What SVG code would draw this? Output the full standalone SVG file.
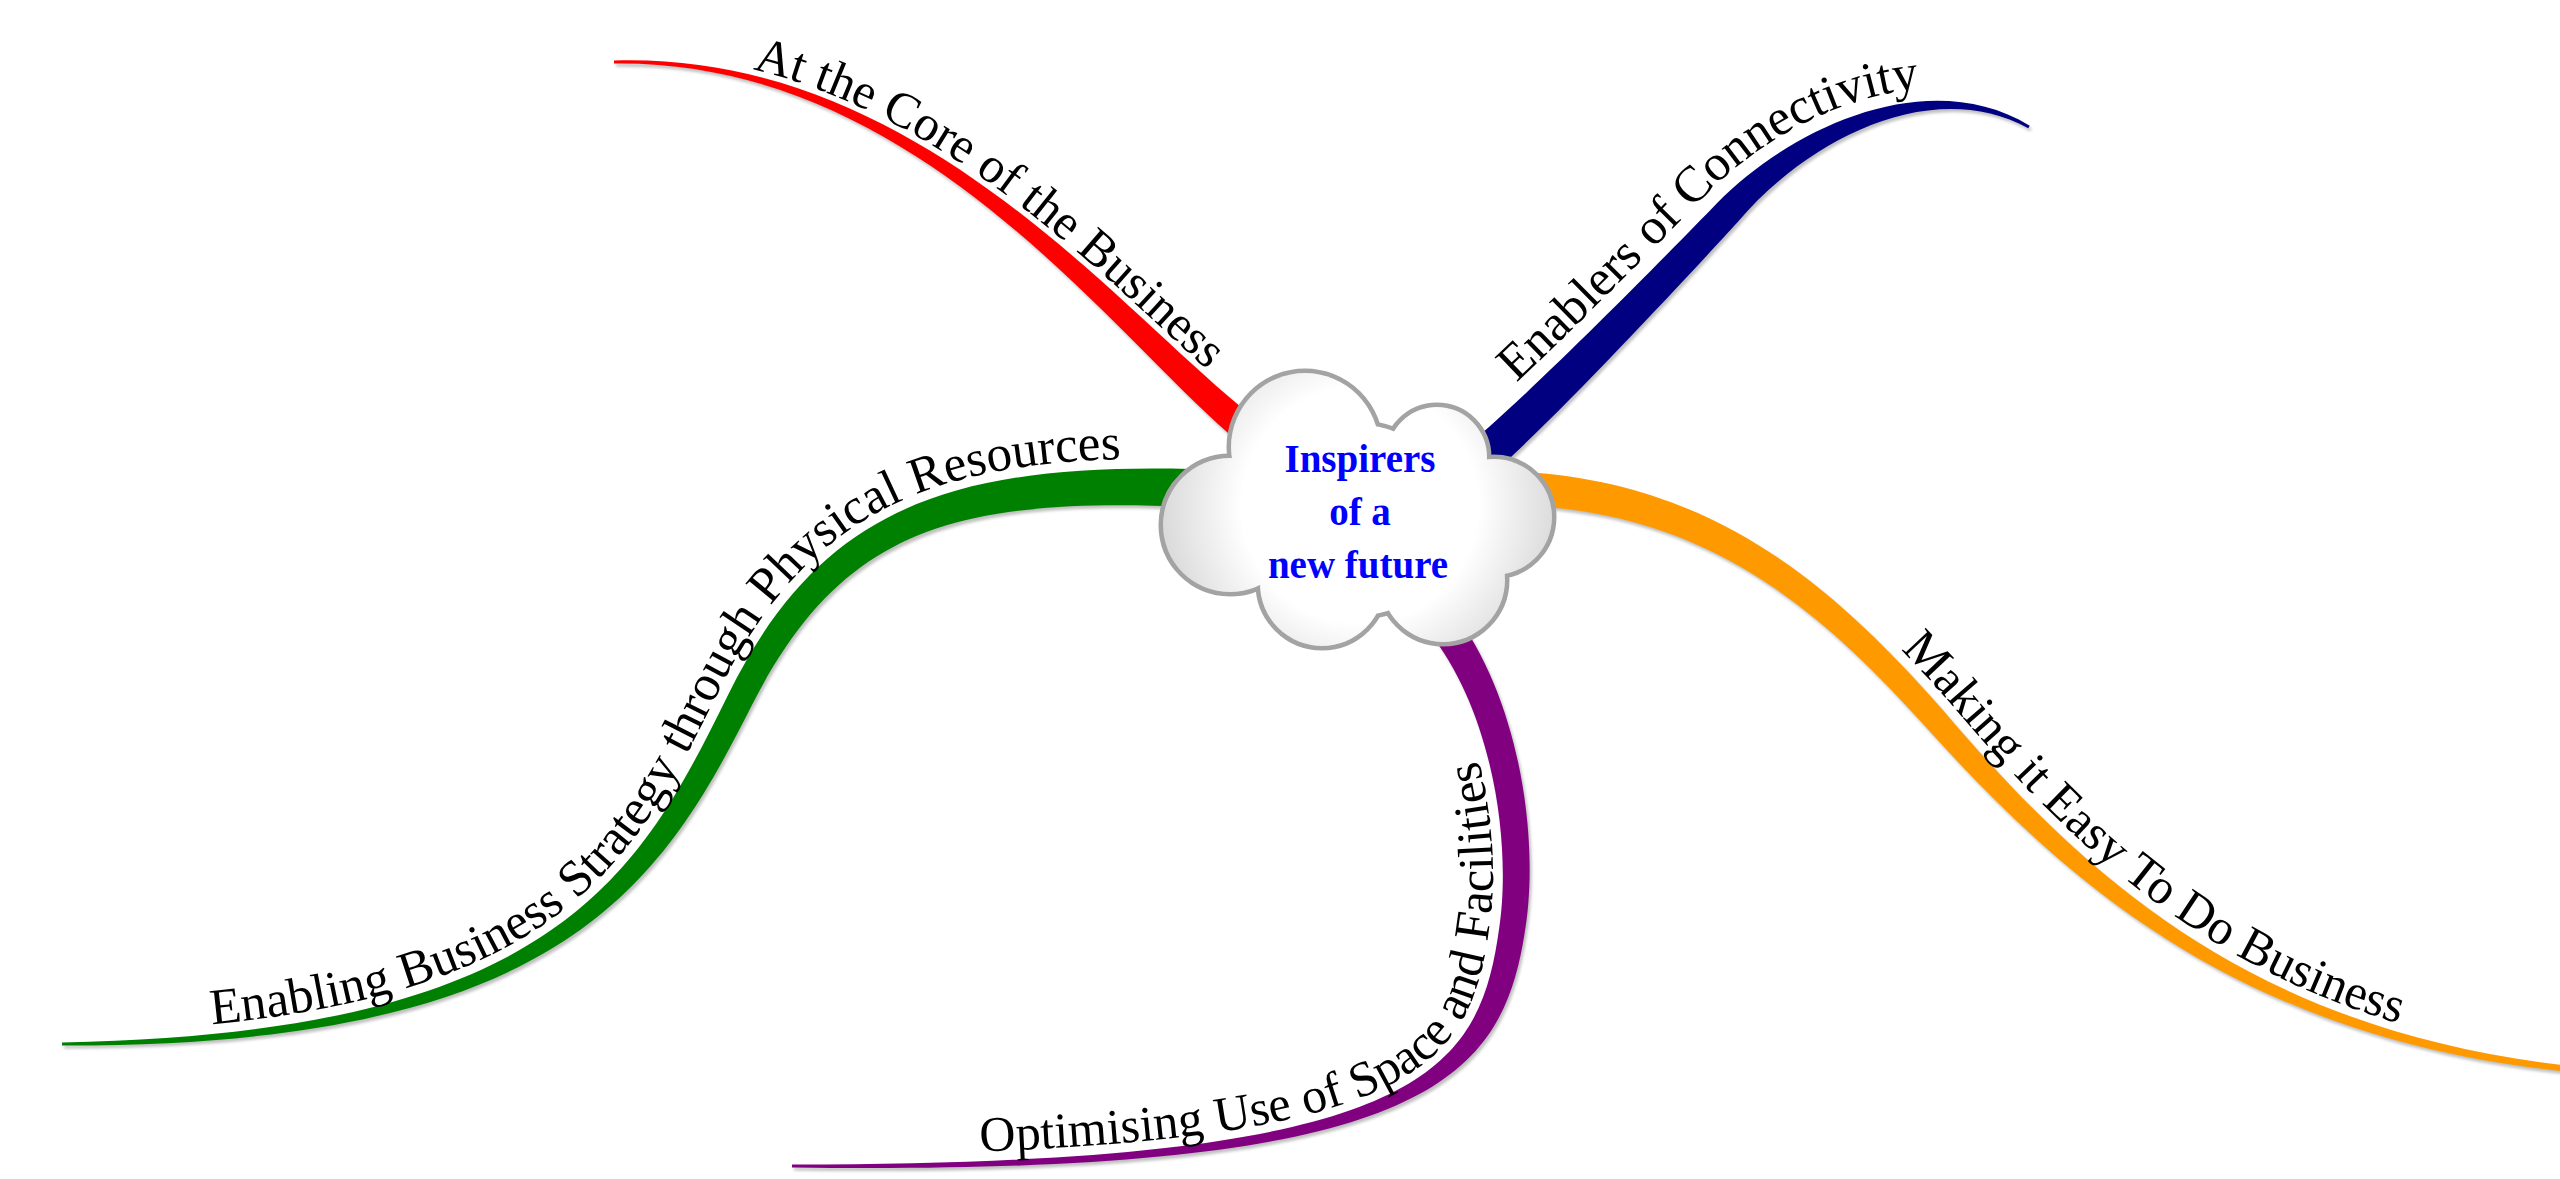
<svg xmlns="http://www.w3.org/2000/svg" width="2560" height="1179" viewBox="0 0 2560 1179">
<defs>
<style>
.lbl{font-family:"Liberation Serif","Times New Roman",serif;font-size:50px;fill:#000}
.ctr{font-family:"Liberation Serif","Times New Roman",serif;font-weight:bold;font-size:39px;fill:#0000ff;text-anchor:middle}
.sh{fill:#8a8a8a;opacity:.55;filter:url(#blur)}
.clo{fill:#a3a3a3;stroke:#a3a3a3;stroke-width:9}
.cl{fill:url(#cg)}
</style>
<filter id="blur" x="-5%" y="-5%" width="110%" height="110%"><feGaussianBlur stdDeviation="1.6"/></filter>
<radialGradient id="cg" gradientUnits="userSpaceOnUse" cx="1360" cy="505" r="215">
<stop offset="0" stop-color="#ffffff"/>
<stop offset="0.55" stop-color="#ffffff"/>
<stop offset="1" stop-color="#d2d2d2"/>
</radialGradient>
<path id="tRed" d="M613.8,54.5 C935.3,45.4 1142.9,333.9 1272.4,423.1"/>
<path id="tBlue" d="M1449.3,442.3 C1509.6,395.1 1658,244 1706.5,194 C1786.2,113.4 1929.5,51 2036.7,113.6"/>
<path id="tOrange" d="M1500.3,461 C1707.9,465.2 1836.1,573.5 1949.4,702.4 C2093.5,871.6 2255.4,1021 2561.4,1056.1"/>
<path id="tPurple" d="M792.1,1154.5 C1418,1154.1 1469.5,1072.1 1489.3,926.4 C1501,850.2 1486.5,718.7 1419.5,636"/>
<path id="tGreen" d="M61.9,1032.5 C555.4,1023.6 630.6,869.7 719.4,689.7 C811.9,502.7 947.6,453.1 1191,459"/>
<path id="rRed" d="M614,60.5 C932.4,50.6 1138.3,337.8 1268.9,427.9 L1251.1,452.1 C1121.7,352.2 927.6,59.4 614,63.5 Z"/>
<path id="rBlue" d="M1458.1,453.2 C1519.4,405.1 1668.1,253.7 1716.7,203.5 C1794.2,124.8 1929.9,65 2029.7,125.7 L2028.3,128.3 C1930.1,75 1805.8,141.2 1737.3,222.5 C1689.9,274.3 1544.6,430.9 1481.9,482.8 Z"/>
<path id="rOrange" d="M1500.2,471 C1704.9,474.8 1829.1,580.7 1942,709 C2086.4,878.6 2251.8,1030.3 2570,1066 L2570,1072 C2248.2,1039.7 2073.6,891.4 1924,725 C1810.9,599.3 1695.1,505.2 1499.8,505 Z"/>
<path id="rPurple" d="M792,1164.5 C1419.3,1164 1478.8,1075.7 1499.2,928 C1511,850.1 1495.9,715.2 1427.4,629.8 L1452.6,610.2 C1524.1,704.8 1539,849.9 1524.8,932 C1501.2,1084.3 1420.7,1176 792,1167.5 Z"/>
<path id="rGreen" d="M62,1042.5 C558.1,1033.3 639.4,874.4 728.4,694.2 C819.2,509.6 948.5,463.1 1190.6,469 L1189.4,507 C951.5,496.9 840.8,530.4 751.6,705.8 C660.6,885.6 561.9,1046.7 62,1045.5 Z"/>
</defs>
<rect width="2560" height="1179" fill="#ffffff"/>
<g id="connectors">
<g id="conn-red"><use href="#rRed" class="sh" transform="translate(2,3)"/><use href="#rRed" fill="#ff0000"/></g>
<g id="conn-blue"><use href="#rBlue" class="sh" transform="translate(2,3)"/><use href="#rBlue" fill="#000080"/></g>
<g id="conn-orange"><use href="#rOrange" class="sh" transform="translate(2,3)"/><use href="#rOrange" fill="#ff9900"/></g>
<g id="conn-purple"><use href="#rPurple" class="sh" transform="translate(2,3)"/><use href="#rPurple" fill="#800080"/></g>
<g id="conn-green"><use href="#rGreen" class="sh" transform="translate(2,3)"/><use href="#rGreen" fill="#008000"/></g>
</g>
<g id="node-center">
<g class="clo">
<circle cx="1305" cy="447" r="74"/><circle cx="1437" cy="457" r="50"/><circle cx="1494" cy="517" r="58"/><circle cx="1443" cy="580" r="62"/><circle cx="1322" cy="584" r="62"/><circle cx="1230" cy="525" r="67"/><circle cx="1360" cy="520" r="95"/>
</g>
<g class="cl">
<circle cx="1305" cy="447" r="74"/><circle cx="1437" cy="457" r="50"/><circle cx="1494" cy="517" r="58"/><circle cx="1443" cy="580" r="62"/><circle cx="1322" cy="584" r="62"/><circle cx="1230" cy="525" r="67"/><circle cx="1360" cy="520" r="95"/>
</g>
<text class="ctr" x="1360" y="472">Inspirers</text>
<text class="ctr" x="1360" y="525">of a</text>
<text class="ctr" x="1358" y="578">new future</text>
</g>
<g id="node-core"><text class="lbl"><textPath href="#tRed" startOffset="140">At the Core of the Business</textPath></text></g>
<g id="node-connectivity"><text class="lbl" style="font-size:51px"><textPath href="#tBlue" startOffset="90">Enablers of Connectivity</textPath></text></g>
<g id="node-easy"><text class="lbl"><textPath href="#tOrange" startOffset="455">Making it Easy To Do Business</textPath></text></g>
<g id="node-space"><text class="lbl"><textPath href="#tPurple" startOffset="188">Optimising Use of Space and Facilities</textPath></text></g>
<g id="node-strategy"><text class="lbl" style="font-size:51px"><textPath href="#tGreen" startOffset="150">Enabling Business Strategy through Physical Resources</textPath></text></g>
</svg>
